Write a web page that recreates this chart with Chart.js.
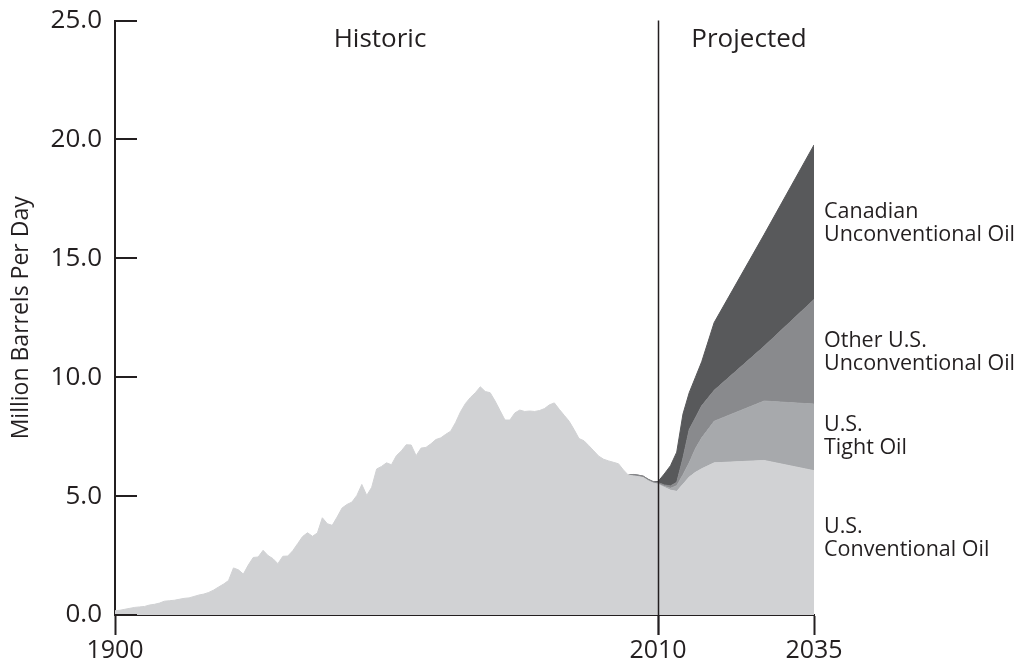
<!DOCTYPE html>
<html lang="en">
  <head>
    <meta charset="UTF-8" />
    <title>Oil Production</title>
    <style>
      body {
        margin: 0;
        background: #ffffff;
      }
      #wrap {
        width: 1021px;
        height: 667px;
      }
    </style>
  </head>
  <body>
    <div id="wrap">
      <canvas id="oilChart" width="1021" height="667"></canvas>
    </div>

    <script src="https://cdn.jsdelivr.net/npm/chart.js"></script>
    <script>
      // historic production, one value per year from 1900 to 2010
      const HIST_START = 1900;
      const HIST_VALUES = [
        0.18, 0.2, 0.24, 0.28, 0.32, 0.34, 0.36, 0.42, 0.45, 0.5,
        0.58, 0.6, 0.62, 0.66, 0.7, 0.72, 0.78, 0.84, 0.88, 0.95,
        1.05, 1.18, 1.3, 1.45, 1.98, 1.9, 1.72, 2.1, 2.42, 2.44,
        2.72, 2.5, 2.37, 2.16, 2.47, 2.48, 2.7, 3.0, 3.3, 3.46,
        3.31, 3.45, 4.09, 3.84, 3.77, 4.12, 4.5, 4.65, 4.75, 5.03,
        5.49, 5.03, 5.37, 6.14, 6.25, 6.4, 6.32, 6.7, 6.9, 7.16,
        7.15, 6.7, 7.02, 7.05, 7.2, 7.38, 7.45, 7.6, 7.73, 8.1,
        8.55, 8.9, 9.15, 9.35, 9.6, 9.4, 9.35, 9.0, 8.6, 8.2,
        8.2, 8.5, 8.62, 8.56, 8.58, 8.56, 8.6, 8.68, 8.84, 8.92,
        8.65, 8.4, 8.15, 7.8, 7.42, 7.33, 7.12, 6.9, 6.68, 6.55,
        6.48, 6.42, 6.36, 6.1, 5.88, 5.85, 5.82, 5.78, 5.65, 5.55,
        5.5,
      ];

      // thin layers showing up just before 2010
      const SLIVER_YEARS = [2004, 2005, 2006, 2007, 2008, 2009, 2010];
      const TIGHT_SLIVER = [0, 0, 0, 0, 0, 0, 0.02];
      const OTHER_SLIVER = [0, 0.06, 0.06, 0.06, 0.06, 0.06, 0.05];
      const CANADA_SLIVER = [0, 0, 0, 0, 0, 0, 0.04];

      // projections
      const PROJ_YEARS = [2011, 2012, 2013, 2014, 2015, 2016, 2017, 2019, 2027, 2035];
      const CONV_PROJ = [5.37, 5.25, 5.2, 5.5, 5.8, 6.0, 6.15, 6.4, 6.5, 6.07];
      const TIGHT_PROJ = [0.04, 0.08, 0.24, 0.4, 0.6, 1.0, 1.3, 1.75, 2.5, 2.8];
      const OTHER_PROJ = [0.06, 0.1, 0.14, 0.7, 1.4, 1.3, 1.35, 1.3, 2.3, 4.4];
      const CANADA_PROJ = [0.46, 0.85, 1.27, 1.85, 1.55, 1.7, 1.85, 2.85, 4.7, 6.5];

      const X_TICKS = [1900, 2010, 2035];
      const Y_TICKS = [0, 5, 10, 15, 20, 25];

      const SERIES_NAMES = [
        "U.S. Conventional Oil",
        "U.S. Tight Oil",
        "Other U.S. Unconventional Oil",
        "Canadian Unconventional Oil",
      ];
      const SIDE_LABELS = [
        ["U.S.", "Conventional Oil"],
        ["U.S.", "Tight Oil"],
        ["Other U.S.", "Unconventional Oil"],
        ["Canadian", "Unconventional Oil"],
      ];

      const INK = "#231f20";
      const FONT = "'Open Sans', 'Noto Sans', sans-serif";

      // the projected years are drawn wider apart than the historic ones
      const SPLIT = 2010;
      const STRETCH = 1.264;
      function pos(year) {
        return year <= SPLIT ? year : SPLIT + (year - SPLIT) * STRETCH;
      }

      function points(years, values) {
        return years.map((y, i) => ({ x: pos(y), y: values[i] }));
      }

      const histYears = HIST_VALUES.map((v, i) => HIST_START + i);
      const convData = points(histYears, HIST_VALUES).concat(points(PROJ_YEARS, CONV_PROJ));
      const tightData = points(SLIVER_YEARS, TIGHT_SLIVER).concat(points(PROJ_YEARS, TIGHT_PROJ));
      const otherData = points(SLIVER_YEARS, OTHER_SLIVER).concat(points(PROJ_YEARS, OTHER_PROJ));
      const canadaData = points(SLIVER_YEARS, CANADA_SLIVER).concat(points(PROJ_YEARS, CANADA_PROJ));

      function layer(label, data, color, fill) {
        return {
          label: label,
          data: data,
          backgroundColor: color,
          borderColor: color,
          borderWidth: 1,
          pointRadius: 0,
          tension: 0,
          fill: fill,
        };
      }

      // axis ticks, 2010 divider and text labels
      const decorations = {
        id: "decorations",
        afterDraw(chart) {
          const { ctx, chartArea, scales } = chart;
          const xs = scales.x;
          const ys = scales.y;
          ctx.save();
          ctx.strokeStyle = INK;

          ctx.lineWidth = 2;
          Y_TICKS.forEach((v) => {
            const y = Math.round(ys.getPixelForValue(v));
            ctx.beginPath();
            ctx.moveTo(chartArea.left, y);
            ctx.lineTo(chartArea.left + 22, y);
            ctx.stroke();
          });

          const xd = Math.round(xs.getPixelForValue(pos(SPLIT))) + 0.5;
          ctx.lineWidth = 1.5;
          ctx.beginPath();
          ctx.moveTo(xd, chartArea.top);
          ctx.lineTo(xd, chartArea.bottom + 20);
          ctx.stroke();

          ctx.fillStyle = INK;
          ctx.textBaseline = "alphabetic";
          ctx.textAlign = "center";
          ctx.font = "26px " + FONT;
          ctx.fillText("Historic", 380, 47);
          ctx.fillText("Projected", 749, 47);

          ctx.textAlign = "left";
          ctx.font = "21.5px " + FONT;
          const baselines = [533, 431, 347, 218];
          SIDE_LABELS.forEach((lines, i) => {
            lines.forEach((t, j) => {
              ctx.fillText(t, chartArea.right + 10, baselines[i] + j * 23);
            });
          });
          ctx.restore();
        },
      };

      function renderChart() {
        const ctx = document.getElementById("oilChart").getContext("2d");
        new Chart(ctx, {
          type: "line",
          data: {
            datasets: [
              layer(SERIES_NAMES[0], convData, "#d1d2d4", "origin"),
              layer(SERIES_NAMES[1], tightData, "#a7a9ac", "-1"),
              layer(SERIES_NAMES[2], otherData, "#898a8d", "-1"),
              layer(SERIES_NAMES[3], canadaData, "#58595b", "-1"),
            ],
          },
          options: {
            responsive: false,
            animation: false,
            layout: {
              padding: { left: 0, right: 207, top: 11, bottom: 0 },
            },
            plugins: {
              legend: { display: false },
              tooltip: { enabled: false },
            },
            scales: {
              x: {
                type: "linear",
                min: pos(1900),
                max: pos(2035),
                afterBuildTicks(scale) {
                  scale.ticks = X_TICKS.map((y) => ({ value: pos(y) }));
                },
                afterFit(scale) {
                  scale.height = 52;
                },
                ticks: {
                  autoSkip: false,
                  maxRotation: 0,
                  padding: 1,
                  color: INK,
                  font: { family: FONT, size: 25 },
                  callback: (v, i) => X_TICKS[i],
                },
                grid: {
                  drawOnChartArea: false,
                  drawTicks: true,
                  tickLength: 20,
                  tickWidth: 2,
                  color: INK,
                },
                border: { display: true, color: INK, width: 2 },
              },
              y: {
                stacked: true,
                min: 0,
                max: 25,
                afterBuildTicks(scale) {
                  scale.ticks = Y_TICKS.map((v) => ({ value: v }));
                },
                afterFit(scale) {
                  scale.width = 115;
                },
                ticks: {
                  padding: 5,
                  color: INK,
                  font: { family: FONT, size: 26 },
                  callback: (v) => v.toFixed(1),
                },
                grid: { display: false },
                border: { display: true, color: INK, width: 2 },
                title: {
                  display: true,
                  text: "Million Barrels Per Day",
                  color: INK,
                  font: { family: FONT, size: 23 },
                  padding: { top: 8, bottom: 0 },
                },
              },
            },
          },
          plugins: [decorations],
        });
      }

      window.onload = function () {
        renderChart();
      };
    </script>
  </body>
</html>
